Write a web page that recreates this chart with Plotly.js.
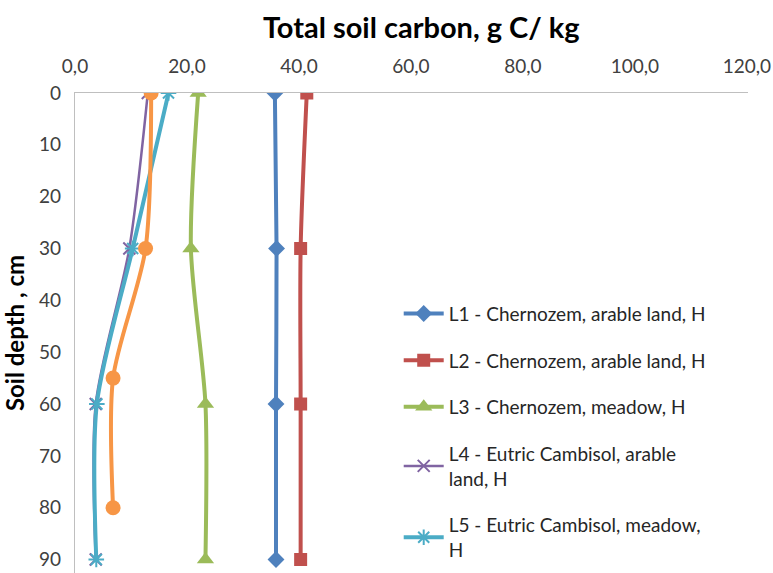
<!DOCTYPE html>
<html>
<head>
<meta charset="utf-8">
<script src="https://cdn.plot.ly/plotly-3.0.1.min.js"></script>
<style>html,body{margin:0;padding:0;background:#fff}#chart{width:773px;height:573px}</style>
</head>
<body>
<div id="chart"></div>
<script>
const depthL = [0, 30, 60, 90];
const depthL6 = [0, 30, 55, 80];
const L1 = [35.7, 36.0, 35.9, 35.9];
const L2 = [41.4, 40.3, 40.3, 40.3];
const L3 = [22.0, 20.7, 23.3, 23.3];
const L4 = [13.0, 9.7, 3.7, 3.7];
const L5 = [16.7, 10.3, 3.9, 3.8];
const L6 = [13.6, 12.6, 6.8, 6.8];
const names = [
  'L1 - Chernozem, arable land, H',
  'L2 - Chernozem, arable land, H',
  'L3 - Chernozem, meadow, H',
  'L4 - Eutric Cambisol, arable<br>land, H',
  'L5 - Eutric Cambisol, meadow,<br>H'
];
const xTicks = [0, 20, 40, 60, 80, 100, 120];
const yTicks = [0, 10, 20, 30, 40, 50, 60, 70, 80, 90];

function tr(x, y, name, color, symbol, size, lw, mlw, show, group) {
  return {
    x: x, y: y, name: name, type: 'scatter', mode: 'lines+markers',
    line: {color: color, width: lw, shape: 'spline', smoothing: 0.8},
    marker: {color: color, symbol: symbol, size: size, line: {color: color, width: mlw}},
    showlegend: show, legendgroup: group
  };
}
const traces = [
  tr(L1, depthL, names[0], '#4F81BD', 'diamond', 13, 4, 0, true, 'g1'),
  tr(L2, depthL, names[1], '#C0504D', 'square', 13, 4, 0, true, 'g2'),
  tr(L3, depthL, names[2], '#9BBB59', 'triangle-up', 15, 4, 0, true, 'g3'),
  tr(L4, depthL, names[3], '#8064A2', 'x-thin-open', 12, 2.5, 2, true, 'g4'),
  tr(L5, depthL, names[4], '#4BACC6', 'asterisk-open', 13, 4, 2, true, 'g5'),
  tr(L6, depthL6, 'L6', '#F79646', 'circle', 15, 4, 0, false, 'g6')
];

const FF = 'Lato, "Open Sans", sans-serif';
const layout = {
  width: 773, height: 573,
  margin: {l: 75, r: 25, t: 93, b: 0, pad: 0},
  paper_bgcolor: '#fff', plot_bgcolor: '#fff',
  separators: ', ',
  font: {family: FF, color: '#404040', size: 19},
  title: {text: '<b>Total soil carbon, g C/ kg</b>', x: 0.545, xanchor: 'center', y: 0.952, yanchor: 'middle',
          font: {family: FF, size: 29, color: '#000'}},
  xaxis: {
    side: 'top', range: [0, 120.2], tickvals: xTicks, tickformat: '.1f',
    showgrid: false, zeroline: false, showline: true, linecolor: '#BFBFBF', linewidth: 1.2,
    ticks: 'outside', ticklen: 11, tickcolor: 'rgba(0,0,0,0)',
    ticklabeloverflow: 'allow',
    tickfont: {family: FF, size: 19, color: '#404040'}
  },
  yaxis: {
    range: [92.6, 0], tickvals: yTicks, showgrid: false, zeroline: false,
    showline: true, linecolor: '#BFBFBF', linewidth: 1.2,
    ticks: 'outside', ticklen: 9, tickcolor: 'rgba(0,0,0,0)',
    ticklabeloverflow: 'allow',
    tickfont: {family: FF, size: 19, color: '#404040'},
    title: {text: '<b>Soil depth , cm</b>', standoff: 12,
            font: {family: FF, size: 24, color: '#000'}}
  },
  legend: {
    x: 0.481, y: 0.58, xanchor: 'left', yanchor: 'top',
    font: {family: FF, size: 19, color: '#262626'},
    tracegroupgap: 19, bgcolor: 'rgba(0,0,0,0)', itemwidth: 40
  }
};
Plotly.newPlot('chart', traces, layout, {staticPlot: true, displayModeBar: false});
</script>
</body>
</html>
